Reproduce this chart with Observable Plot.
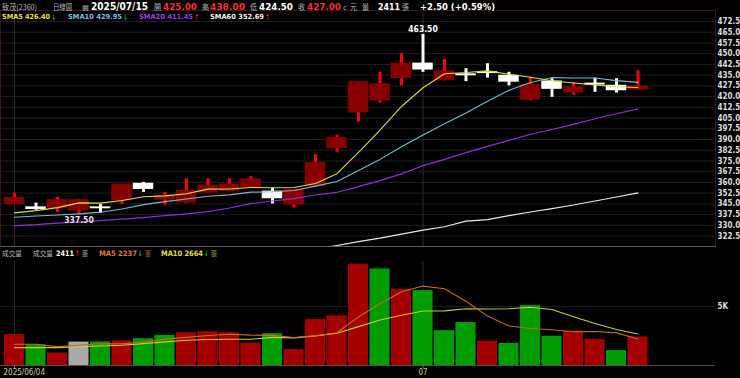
<!DOCTYPE html>
<html><head><meta charset="utf-8">
<script src="https://cdn.jsdelivr.net/npm/d3@7"></script>
<script src="https://cdn.jsdelivr.net/npm/@observablehq/plot@0.6"></script>
<style>
html,body{margin:0;padding:0;background:#000;}
#wrap{position:relative;width:740px;height:378px;overflow:hidden;background:#000;}
#wrap svg{position:absolute;left:0;}
</style></head><body><div id="wrap"></div>
<script>
// ---------- data ----------
const ticker = "致茂(2360)";
const dates = ["2025/06/04","2025/06/05","2025/06/06","2025/06/09","2025/06/10","2025/06/11","2025/06/12","2025/06/13","2025/06/16","2025/06/17","2025/06/18","2025/06/19","2025/06/20","2025/06/23","2025/06/24","2025/06/25","2025/06/26","2025/06/27","2025/06/30","2025/07/01","2025/07/02","2025/07/03","2025/07/04","2025/07/07","2025/07/08","2025/07/09","2025/07/10","2025/07/11","2025/07/14","2025/07/15"];
const open  = [345,342.5,342,340.5,342.5,347.5,359,348,346,353,354,356.5,353.5,344.5,357.5,384,409,417.5,433,443,431.5,435.5,437,434.5,418,430.5,423,429,427.5,425];
const high  = [352.5,345.5,349.5,348,344.5,358.5,360,353,362.5,362.5,362.5,364,356,355,379.5,393,430.5,437,450,463.5,446,439.5,443,437,433.5,432.5,430,433,432.5,438];
const low   = [344.5,340.5,339,337.5,338.5,344.5,353,344,345.5,352.5,353.5,356,345,342,356.5,381,402,415.5,427.5,437,431,430.5,433,427.5,417,419.5,421,423,422.5,424.5];
const close = [349,341.5,347.5,347.5,342,358.5,355.5,350.5,354,357.5,358.5,362,349,355,373.5,391,430,428.5,443,439,437.5,435,436.5,430.5,428,425.5,426.5,428.5,424.5,427];
const volume = [2610,1750,1060,1980,2000,2090,2260,2550,2780,2860,2780,1890,2690,1350,3900,4210,8570,8170,6450,6340,2950,3640,2060,1870,5070,2470,2900,2210,1260,2411];
const volDir = ["up","down","up","flat","down","up","down","down","up","up","up","up","down","up","up","up","up","down","up","down","down","down","up","down","down","down","up","up","down","up"];
const sma5  = [338.7,340.3,342.4,345.7,345.5,347.4,350,350.6,352.1,355.3,355.4,356.5,356.3,356.4,359.3,366.1,381,396.5,413.1,426.2,436,436.8,438,435.6,433.5,431.1,429.5,428.2,426.9,426.4];
const sma10 = [335.6,336.5,337.2,338,339.2,341.4,344.5,346.6,348.4,350.3,351.3,353.2,353.5,354.3,357.4,360.7,368.3,376.1,385,393.1,401,408.5,416.7,424.4,429.9,433.3,433,433,431.2,429.95];
const sma20 = [329.8,330.5,331.6,332.3,333.3,334.4,335.4,336.8,338,339.6,342.1,345.2,347,348.7,351.2,353.1,357.1,361.3,366,371.7,376.1,380.8,385.2,389.4,393.7,397,400.6,404.5,408,411.45];
const sma60 = [null,null,null,null,null,null,null,null,null,null,null,null,null,null,313.5,315.9,318.6,321,323.8,326.7,329,332.9,334,336.8,339.3,341.7,344.2,347,349.8,352.69];
const volMa5  = [1796,1796,1600,1710,1840,1830,1980,2230,2380,2540,2650,2570,2550,2370,2515,2770,4110,5230,6240,6720,6500,5430,4180,3340,3125,3020,2860,2880,2760,2237];
const volMa10 = [1510,1510,1510,1596,1653,1710,1853,1995,2138,2195,2215,2225,2380,2340,2510,2730,3290,3850,4250,4610,4620,4800,4775,4800,4930,4745,4130,3550,3050,2664];
const priceTicks = [322.5,330,337.5,345,352.5,360,367.5,375,382.5,390,397.5,405,412.5,420,427.5,435,442.5,450,457.5,465,472.5];
const volTicks = [5000];
const volTickLabels = ["5K"];
const dateTicks = [0, 19];
const dateTickLabels = ["2025/06/04", "07"];

// ---------- layout ----------
const W = 740;
const XD = [-0.6512, 32.6047];
const FONT = '"DejaVu Sans Condensed","DejaVu Sans",sans-serif';
const CJK = '"Noto Sans CJK TC","Noto Sans CJK SC",sans-serif';
const RED = "#ff2a2a", GREEN = "#22c422", WHITE = "#ffffff", GREY = "#b8b8b8";
const idx = dates.map((_, i) => i);
const candles = idx.map(i => ({i, o: open[i], h: high[i], l: low[i], c: close[i], up: close[i] > open[i]}));
const vols = idx.map(i => ({i, v: volume[i], dir: volDir[i]}));
const hiI = d3.maxIndex(high), loI = d3.minIndex(low);
const volFill = {up: "#a40000", down: "#009c00", flat: "#aaaaaa"};

const pricePlot = Plot.plot({
  width: W, height: 247, marginTop: 10, marginBottom: 1, marginLeft: 0, marginRight: 25,
  style: {background: "transparent", fontFamily: FONT, overflow: "visible"},
  x: {type: "linear", domain: XD, axis: null},
  y: {domain: [315.2, 480.2]},
  color: {type: "identity"},
  marks: [
    Plot.ruleY(priceTicks, {stroke: "#1f1f1f"}),
    Plot.ruleX(dateTicks, {stroke: "#2c2c2c"}),
    Plot.ruleX(candles, {x: "i", y1: "l", y2: "h", stroke: d => d.up ? "#ff0000" : "#ffffff", strokeWidth: 3}),
    Plot.rect(candles, {x1: d => d.i - 0.477, x2: d => d.i + 0.477, y1: d => Math.min(d.o, d.c), y2: d => Math.max(d.o, d.c), fill: d => d.up ? "#860000" : "#ffffff", insetTop: -0.6, insetBottom: -0.6}),
    Plot.line(sma60, {x: (d, i) => i, y: d => d, stroke: "#e8e8e8", strokeWidth: 1.2, clip: true}),
    Plot.line(sma20, {x: (d, i) => i, y: d => d, stroke: "#8e2de0", strokeWidth: 1.2, clip: true}),
    Plot.line(sma10, {x: (d, i) => i, y: d => d, stroke: "#78b8d0", strokeWidth: 1.1, clip: true}),
    Plot.line(sma5, {x: (d, i) => i, y: d => d, stroke: "#dcdc3c", strokeWidth: 1.1, clip: true}),
    Plot.text([hiI], {x: d => d, y: d => high[d], text: d => high[d].toFixed(2), dy: -5, fill: "#ffffff", fontWeight: "bold", fontSize: 8.5}),
    Plot.text([loI], {x: d => d, y: d => low[d], text: d => low[d].toFixed(2), dy: 6, fill: "#e6def4", fontWeight: "bold", fontSize: 8.5}),
    Plot.frame({stroke: "#3a1616"}),
    Plot.frame({anchor: "bottom", stroke: "#6a5a5a"}),
    Plot.axisY(priceTicks, {anchor: "right", tickSize: 0, tickPadding: 2, tickFormat: d => d.toFixed(1), fill: "#dcdcdc", fontWeight: "bold", fontSize: 8})
  ]
});

const volPlot = Plot.plot({
  width: W, height: 131, marginTop: 14, marginBottom: 13, marginLeft: 0, marginRight: 25,
  style: {background: "transparent", fontFamily: FONT, overflow: "visible"},
  x: {type: "linear", domain: XD, axis: null},
  y: {type: "linear", domain: [0, 8800], axis: null},
  color: {type: "identity"},
  marks: [
    Plot.ruleY(volTicks, {stroke: "#1f1f1f"}),
    Plot.ruleX(dateTicks, {y1: 0, y2: 8800, stroke: "#2c2c2c"}),
    Plot.rect(vols, {x1: d => d.i - 0.49, x2: d => d.i + 0.49, y1: 0, y2: "v", fill: d => volFill[d.dir], insetLeft: 0.5, insetRight: 0.5}),
    Plot.line(volMa10, {x: (d, i) => i, y: d => d, stroke: "#cccc2a", strokeWidth: 1.1}),
    Plot.line(volMa5, {x: (d, i) => i, y: d => d, stroke: "#c8691e", strokeWidth: 1.1}),
    Plot.ruleY([0], {stroke: "#505050"}),
    Plot.ruleX(dateTicks, {y1: 0, y2: -300, stroke: "#777"}),
    Plot.text(volTicks, {x: XD[1], y: d => d, text: (d, i) => volTickLabels[i], textAnchor: "start", dx: 2, fill: "#dcdcdc", fontWeight: "bold", fontSize: 8}),
    Plot.text([dateTicks[0]], {x: d => d, frameAnchor: "bottom", dy: 9, textAnchor: "start", dx: -11, text: () => dateTickLabels[0], fill: "#cdcb96", fontSize: 8}),
    Plot.text(dateTicks.slice(1), {x: d => d, frameAnchor: "bottom", dy: 9, text: (d, i) => dateTickLabels[i + 1], fill: "#cdcb96", fontSize: 8})
  ]
});

const wrap = document.getElementById("wrap");
pricePlot.style.top = "0px";
volPlot.style.top = "247px";
wrap.appendChild(pricePlot);
wrap.appendChild(volPlot);

// ---------- header texts (overlay) ----------
const n = close.length - 1;
const prevClose = close[n - 1];
const cmp = v => v > prevClose ? RED : v < prevClose ? GREEN : WHITE;
const arrowOf = a => a[n] >= a[n - 1] ? ["↑", RED] : ["↓", GREEN];
const chg = close[n] - prevClose;
const chgTxt = (chg >= 0 ? "+" : "") + chg.toFixed(2) + " (" + (chg >= 0 ? "+" : "") + (chg / prevClose * 100).toFixed(2) + "%)";

const ov = d3.select(wrap).append("svg").attr("width", W).attr("height", 378).style("top", "0px").style("pointer-events", "none");
function t(txt, x, y, w, size, bold, fill, fam) {
  const e = ov.append("text").attr("x", x).attr("y", y).attr("font-size", size)
    .attr("font-family", fam || FONT).attr("font-weight", bold ? "bold" : "normal")
    .attr("fill", fill).text(txt);
  if (w) e.attr("textLength", w).attr("lengthAdjust", "spacingAndGlyphs");
}
// row 1
t(ticker, 2, 10, 35, 8, false, GREY, CJK);
t("日線圖", 53, 10, 19, 7.5, false, GREY, CJK);
t("▦", 82, 10, 7, 8, false, "#9a9a9a");
t(dates[n], 91, 10, 57, 10, true, WHITE);
t("開", 154, 10, 7, 7.5, false, GREY, CJK);
t(open[n].toFixed(2), 163, 10, 34, 8.5, true, cmp(open[n]));
t("高", 202, 10, 7, 7.5, false, GREY, CJK);
t(high[n].toFixed(2), 210, 10, 35, 8.5, true, cmp(high[n]));
t("低", 250, 10, 7, 7.5, false, GREY, CJK);
t(low[n].toFixed(2), 259, 10, 34, 8.5, true, cmp(low[n]));
t("收", 298, 10, 7, 7.5, false, GREY, CJK);
t(close[n].toFixed(2), 307, 10, 34, 8.5, true, cmp(close[n]));
t("c", 343, 10, 4, 7, false, GREY);
t("元", 350, 10, 7, 7.5, false, GREY, CJK);
t("量", 362, 10, 7, 7.5, false, GREY, CJK);
t(String(volume[n]), 378, 10, 22, 8.5, true, WHITE);
t("張", 402, 10, 7, 7.5, false, GREY, CJK);
t(chgTxt, 420, 10, 75, 8.5, true, chg > 0 ? WHITE : chg < 0 ? GREEN : WHITE);
// row 2 : moving averages
const maItems = [["SMA5", sma5, 2, 48, "#e6e632"], ["SMA10", sma10, 68, 54, "#70c0e0"], ["SMA20", sma20, 139, 54, "#9b3ee8"], ["SMA60", sma60, 210, 54, "#f0f0f0"]];
maItems.forEach(([nm, arr, x, w, col]) => {
  t(nm + " " + arr[n].toFixed(2), x, 19, w, 7, true, col);
  const [ch, ac] = arrowOf(arr);
  t(ch, x + w + 1.5, 19.5, 4, 8, true, ac);
});
// volume header
t("成交量", 2, 255.5, 20, 7, false, GREY, CJK);
t("成交量", 33, 255.5, 20, 7, false, GREY, CJK);
t(String(volume[n]), 56, 255.5, 18, 7.5, true, WHITE);
{ const [ch, ac] = arrowOf(volume); t(ch, 75, 256, 4, 8, true, ac); }
t("張", 82, 255.5, 6, 6.5, false, GREY, CJK);
t("MA5 " + Math.round(volMa5[n]), 99, 255.5, 38, 7.5, true, "#e07a2a");
{ const [ch, ac] = arrowOf(volMa5); t(ch, 138, 256, 4, 8, true, ac); }
t("張", 145, 255.5, 6, 6.5, false, "#a87040", CJK);
t("MA10 " + Math.round(volMa10[n]), 161, 255.5, 42, 7.5, true, "#e0e030");
{ const [ch, ac] = arrowOf(volMa10); t(ch, 204, 256, 4, 8, true, ac); }
t("張", 211, 255.5, 6, 6.5, false, "#a8a840", CJK);
</script></body></html>
